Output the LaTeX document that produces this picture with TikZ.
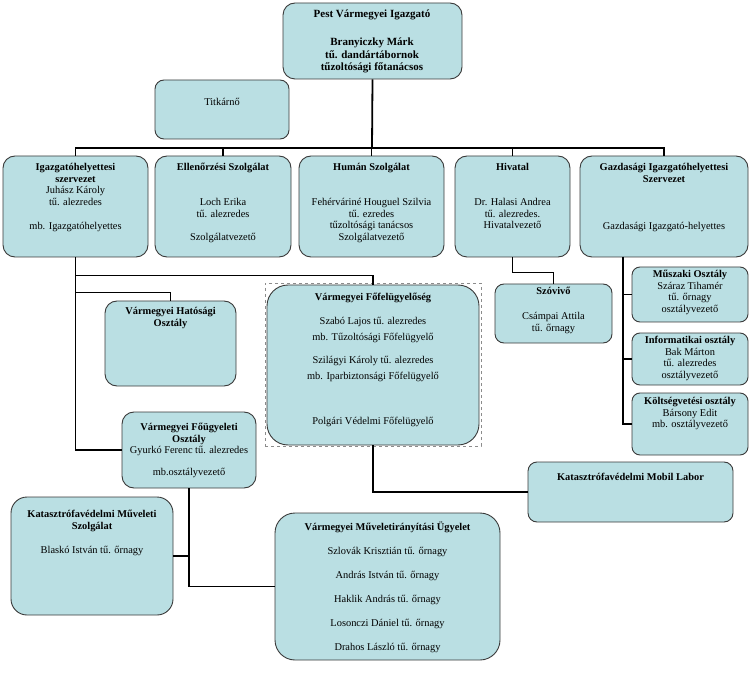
\documentclass[tikz,border=0pt]{standalone}
\usepackage{fontspec}
\setmainfont{Liberation Serif}
\usetikzlibrary{positioning}
\definecolor{boxfill}{HTML}{BADFE3}
\definecolor{boxline}{HTML}{3A3A3A}

\begin{document}
\begin{tikzpicture}[
    x=1pt, y=-1pt,
    font=\fontsize{10.4pt}{11.7pt}\selectfont,
    unit/.style={draw=boxline, line width=0.9pt, rounded corners=12pt,
                 fill=boxfill, inner sep=0pt},
    txt/.style={anchor=north, align=center, inner sep=0pt,
                execute at begin node=\strut},
    conn/.style={draw=black, line width=1.8pt},
    selframe/.style={draw=black!45, dashed, line width=0.4pt, inner sep=0pt}
]
\useasboundingbox (0,0) rectangle (749,692);

\node[unit, minimum width=179pt, minimum height=76pt] (igazgato) at (372.5,41) {};
\node[txt, font=\fontsize{11pt}{12.6pt}\selectfont] (igazgato-t) at (372,10)
    {\textbf{Pest Vármegyei Igazgató}\\[15pt] \textbf{Branyiczky Márk}\\
     \textbf{tű. dandártábornok}\\ \textbf{tűzoltósági főtanácsos}};
\node[unit, rounded corners=9pt, minimum width=134pt, minimum height=59pt] (titkar) at (222,109.5) {};
\node[txt] (titkar-t) at (222,97) {Titkárnő};

\node[unit, minimum width=145pt, minimum height=101pt] (ighely) at (75.5,206.5) {};
\node[txt] (ighely-t) at (75.5,163)
    {\textbf{Igazgatóhelyettesi}\\ \textbf{szervezet}\\ Juhász Károly\\
     tű. alezredes\\[12pt] mb. Igazgatóhelyettes};
\node[unit, minimum width=136pt, minimum height=101pt] (ellen) at (223,206.5) {};
\node[txt] (ellen-t) at (223,163)
    {\textbf{Ellenőrzési Szolgálat}\\[23.3pt] Loch Erika\\ tű. alezredes\\[11.3pt]
     Szolgálatvezető};
\node[unit, minimum width=145pt, minimum height=101pt] (human) at (371.5,206.5) {};
\node[txt] (human-t) at (371.5,163)
    {\textbf{Humán Szolgálat}\\[23.3pt] Fehérváriné Houguel Szilvia\\ tű. ezredes\\
     tűzoltósági tanácsos\\ Szolgálatvezető};
\node[unit, minimum width=115pt, minimum height=101pt] (hivatal) at (512.5,206.5) {};
\node[txt] (hivatal-t) at (512.5,163)
    {\textbf{Hivatal}\\[23.3pt] Dr. Halasi Andrea\\ tű. alezredes.\\ Hivatalvezető};
\node[unit, minimum width=168pt, minimum height=101pt] (gazd) at (664,206.5) {};
\node[txt] (gazd-t) at (664,163)
    {\textbf{Gazdasági Igazgatóhelyettesi}\\ \textbf{Szervezet}\\[35.3pt]
     Gazdasági Igazgató-helyettes};

\node[unit, minimum width=131pt, minimum height=85pt] (hatos) at (170.5,343.5) {};
\node[txt] (hatos-t) at (170.5,307) {\textbf{Vármegyei Hatósági}\\ \textbf{Osztály}};
\node[unit, minimum width=134pt, minimum height=76pt] (fougy) at (189,450) {};
\node[txt] (fougy-t) at (189,423)
    {\textbf{Vármegyei Főügyeleti}\\ \textbf{Osztály}\\ Gyurkó Ferenc tű. alezredes\\[10.3pt]
     mb.osztályvezető};
\node[selframe, minimum width=216pt, minimum height=163pt] (felsel) at (373,364.5) {};
\node[unit, rounded corners=21pt, minimum width=212pt, minimum height=160pt] (felugy) at (373,365) {};
\node[txt] (felugy-t) at (373,293)
    {\textbf{Vármegyei Főfelügyelőség}\\[12.3pt] Szabó Lajos tű. alezredes\\[4.3pt]
     mb. Tűzoltósági Főfelügyelő\\[11.3pt] Szilágyi Károly tű. alezredes\\[4.3pt]
     mb. Iparbiztonsági Főfelügyelő\\[33.3pt] Polgári Védelmi Főfelügyelő};

\node[unit, rounded corners=9pt, minimum width=117pt, minimum height=59pt] (szovivo) at (553.5,313.5) {};
\node[txt] (szovivo-t) at (553.5,287)
    {\textbf{Szóvivő}\\[13.3pt] Csámpai Attila\\ tű. őrnagy};
\node[unit, rounded corners=8pt, minimum width=116pt, minimum height=55pt] (muszaki) at (690,294.5) {};
\node[txt] (muszaki-t) at (690,270)
    {\textbf{Műszaki Osztály}\\ Száraz Tihamér\\ tű. őrnagy\\ osztályvezető};
\node[unit, rounded corners=8pt, minimum width=116pt, minimum height=52pt] (info) at (690,359) {};
\node[txt] (info-t) at (690,336)
    {\textbf{Informatikai osztály}\\ Bak Márton\\ tű. alezredes\\ osztályvezető};
\node[unit, rounded corners=8pt, minimum width=116pt, minimum height=62pt] (koltseg) at (690,424) {};
\node[txt] (koltseg-t) at (690,397)
    {\textbf{Költségvetési osztály}\\ Bársony Edit\\ mb. osztályvezető};
\node[unit, rounded corners=9pt, minimum width=205pt, minimum height=60pt] (mobil) at (630.5,492) {};
\node[txt] (mobil-t) at (630.5,472) {\textbf{Katasztrófavédelmi Mobil Labor}};

\node[unit, rounded corners=16pt, minimum width=162pt, minimum height=118pt] (muvsz) at (92,556) {};
\node[txt] (muvsz-t) at (92,510)
    {\textbf{Katasztrófavédelmi Műveleti}\\ \textbf{Szolgálat}\\[12.3pt]
     Blaskó István tű. őrnagy};
\node[unit, rounded corners=20pt, minimum width=225pt, minimum height=147pt] (muvir) at (387.5,586.5) {};
\node[txt] (muvir-t) at (387.5,522)
    {\textbf{Vármegyei Műveletirányítási Ügyelet}\\[12.3pt] Szlovák Krisztián tű. őrnagy\\[12.3pt]
     András István tű. őrnagy\\[12.3pt] Haklik András tű. őrnagy\\[12.3pt]
     Losonczi Dániel tű. őrnagy\\[12.3pt] Drahos László tű. őrnagy};

\coordinate (bus) at (372,148);
\coordinate (gtrunk) at (623,257);
\draw[conn] (igazgato.south) -- (bus);
\draw[conn] (ighely.north) |- (bus) -| (gazd.north);
\foreach \b in {ellen,human,hivatal}
    \draw[conn] (\b.north) -- (\b.north |- bus);
\draw[conn] (ighely.south) |- (fougy.west);
\draw[conn] (ighely.south) ++(0,18) -| (felugy.north);
\draw[conn] (ighely.south) ++(0,35) -| (hatos.north);
\draw[conn] (fougy.south) |- (muvir.west);
\draw[conn] (muvsz.east) -- (muvsz.east -| fougy.south);
\draw[conn] (felugy.south) |- (mobil.west);
\draw[conn] (hivatal.south) -- ++(0,15) -| (szovivo.north);
\foreach \b in {muszaki,info,koltseg}
    \draw[conn] (gtrunk) |- (\b.west);
\end{tikzpicture}
\end{document}
